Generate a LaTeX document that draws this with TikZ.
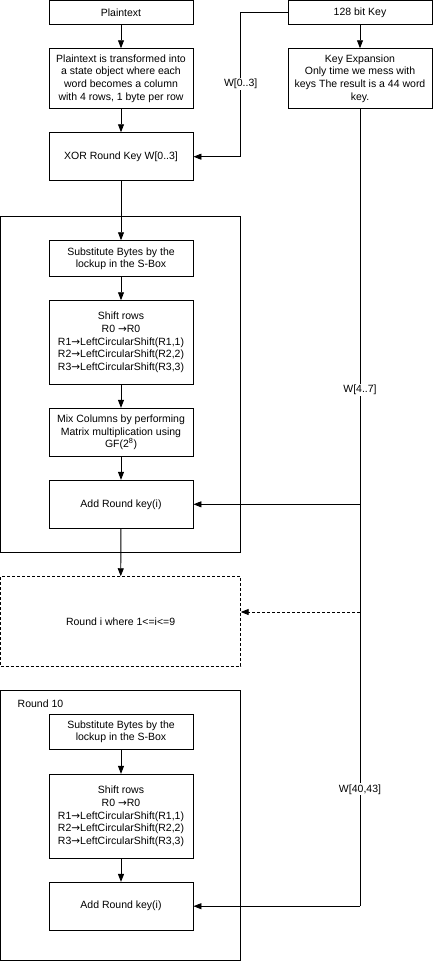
\documentclass[tikz,border=0pt]{standalone}
\usepackage{fontspec}
\setmainfont{Liberation Sans}
\newfontfamily\arrfont{DejaVu Sans}
\newcommand{\rarr}{{\arrfont →}}
\usetikzlibrary{arrows.meta}
\begin{document}
\begin{tikzpicture}[x=1pt,y=-1pt,
  every node/.style={font=\fontsize{10.5}{12.7}\selectfont},
  box/.style={draw,line width=0.9pt,minimum width=144pt,inner sep=0pt,align=center},
  frame/.style={draw,line width=0.9pt,inner sep=0pt},
  conn/.style={line width=0.9pt,-{Triangle[length=8pt,width=6pt]}},
  lab/.style={fill=white,inner sep=1pt}]
\useasboundingbox (0,0) rectangle (433,961);
% containers
\node[frame,minimum width=240.2pt,minimum height=335.6pt] (r1) at (120.6,384.5) {};
\node[frame,dashed,dash pattern=on 3pt off 2pt,minimum width=240.2pt,minimum height=89.3pt] (dr) at (120.6,621.35) {Round i where 1<=i<=9};
\node[frame,minimum width=240.2pt,minimum height=269.7pt] (r10) at (120.6,825.15) {};
\node[anchor=west,inner sep=0pt] (r10lab) at (17.5,703.3) {Round 10};
% left column
\node[box,minimum height=23.8pt] (plain) at (121,12.4) {Plaintext};
\node[box,minimum height=59.6pt] (trans) at (121,78.5) {Plaintext is transformed into\\a state object where each\\word becomes a column\\with 4 rows, 1 byte per row};
\node[box,minimum height=48pt] (xor) at (121,156.7) {XOR Round Key W[0..3]};
\node[box,minimum height=36pt] (sub1) at (121,258.7) {Substitute Bytes by the\\lockup in the S-Box};
\node[box,minimum height=83.6pt] (shift1) at (121,342.5) {Shift rows\\R0 \rarr R0\\R1\rarr LeftCircularShift(R1,1)\\R2\rarr LeftCircularShift(R2,2)\\R3\rarr LeftCircularShift(R3,3)};
\node[box,minimum height=48.4pt] (mix) at (121,432.5) {Mix Columns by performing\\Matrix multiplication using\\GF(2\textsuperscript{8})};
\node[box,minimum height=48pt] (add1) at (121,504.3) {Add Round key(i)};
\node[box,minimum height=35pt] (sub2) at (121,731.8) {Substitute Bytes by the\\lockup in the S-Box};
\node[box,minimum height=84pt] (shift2) at (121,816.3) {Shift rows\\R0 \rarr R0\\R1\rarr LeftCircularShift(R1,1)\\R2\rarr LeftCircularShift(R2,2)\\R3\rarr LeftCircularShift(R3,3)};
\node[box,minimum height=47.7pt] (add2) at (121,906.2) {Add Round key(i)};
% right column
\node[box,minimum height=23.8pt] (key) at (360,12.4) {128 bit Key};
\node[box,minimum height=59.6pt] (kexp) at (360,78.5) {Key Expansion\\Only time we mess with\\keys The result is a 44 word\\key.};
% coordinates
\coordinate (c1) at (240.7,12.4);
\coordinate (c2) at (240.7,156.7);
\coordinate (b1) at (360,504.3);
\coordinate (b2) at (360,612);
\coordinate (b3) at (360,906.2);
\coordinate (d2) at (240.7,612);
% connectors
\draw[conn] (plain) -- (trans);
\draw[conn] (trans) -- (xor);
\draw[conn] (xor) -- (sub1);
\draw[conn] (sub1) -- (shift1);
\draw[conn] (shift1) -- (mix);
\draw[conn] (mix) -- (add1);
\draw[conn] (add1) -- (dr);
\draw[conn] (sub2) -- (shift2);
\draw[conn] (shift2) -- (add2);
\draw[conn] (key) -- (kexp);
\draw[conn] (key.west) -- (c1) -- (c2) -- (xor.east);
\draw[line width=0.9pt] (kexp.south) -- (b3);
\draw[conn] (b1) -- (add1.east);
\draw[conn,dashed,dash pattern=on 3pt off 2pt] (b2) -- (d2);
\draw[conn] (b3) -- (add2.east);
% labels
\node[lab] (w0) at (240.7,84) {W[0..3]};
\node[lab] (w4) at (360,390) {W[4..7]};
\node[lab] (w40) at (360,789.3) {W[40,43]};
\end{tikzpicture}
\end{document}
